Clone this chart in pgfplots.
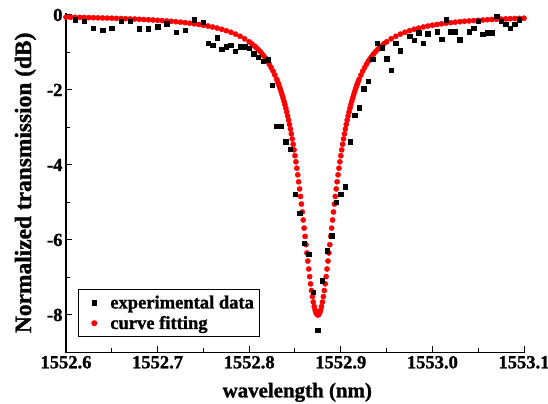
\documentclass[border=0pt]{standalone}
\usepackage{pgfplots}
\pgfplotsset{compat=1.18}
\usepackage{fontspec}
\setmainfont{Liberation Serif}[BoldFont={Liberation Serif Bold}]
\newfontfamily\bfserif{Liberation Serif Bold}[FakeBold=1.2]
\definecolor{fitred}{RGB}{255,0,0}
\begin{document}
\begin{tikzpicture}
\begin{axis}[
  at={(66bp,51.5bp)}, anchor=south west,
  scale only axis,
  width=458bp, height=339.4bp,
  xmin=1552.6, xmax=1553.1,
  ymin=-9, ymax=0.05,
  axis x line*=bottom, axis y line*=left,
  axis line style={line width=1.1bp, black},
  xtick={1552.6,1552.7,1552.8,1552.9,1553.0,1553.1},
  xticklabels={{\bfserif 1552.6},{\bfserif 1552.7},{\bfserif 1552.8},{\bfserif 1552.9},{\bfserif 1553.0},{\bfserif 1553.1}},
  ytick={-8,-6,-4,-2,0},
  yticklabels={{\bfserif -8},{\bfserif -6},{\bfserif -4},{\bfserif -2},{\bfserif 0}},
  minor x tick num=1, minor y tick num=1,
  tick align=inside,
  major tick length=6bp, minor tick length=4bp,
  tick style={line width=1bp, black},
  /pgf/number format/assume math mode=true,
  tick label style={font=\bfserif\fontsize{18.6}{20}\selectfont},
  xlabel={wavelength (nm)},
  ylabel={Normalized transmission (dB)},
  xlabel style={at={(axis description cs:0.505,-0.132)}, anchor=base, font=\bfserif\fontsize{21}{24}\selectfont},
  ylabel style={at={(axis description cs:-0.0764,0.5)}, anchor=base, font=\bfserif\fontsize{23.5}{26}\selectfont},
  reverse legend,
  legend cell align=left,
  legend image code/.code={\path[draw=none,fill=none] (-12bp,-5bp) rectangle (14bp,5bp); \draw[#1] plot coordinates {(0bp,0bp)};},
  legend style={at={(0.026,0.046)}, anchor=south west, draw=black, line width=0.8bp,
    font=\bfserif\fontsize{18.6}{21}\selectfont, row sep=2bp, inner xsep=4bp, inner ysep=4bp,
    column sep=0bp},
  clip=false,
]
\addplot[only marks, mark=*, mark size=2.6bp, fitred, mark options={draw=none, fill=fitred}] coordinates {
(1552.600,-0.0580) (1552.605,-0.0601) (1552.610,-0.0624) (1552.615,-0.0648) (1552.620,-0.0674)
(1552.625,-0.0701) (1552.630,-0.0729) (1552.635,-0.0760) (1552.640,-0.0792) (1552.645,-0.0827)
(1552.650,-0.0863) (1552.655,-0.0903) (1552.660,-0.0944) (1552.665,-0.0989) (1552.670,-0.1038)
(1552.675,-0.1089) (1552.680,-0.1145) (1552.685,-0.1205) (1552.690,-0.1270) (1552.695,-0.1341)
(1552.700,-0.1417) (1552.705,-0.1500) (1552.710,-0.1591) (1552.715,-0.1689) (1552.720,-0.1798)
(1552.725,-0.1917) (1552.730,-0.2048) (1552.735,-0.2192) (1552.740,-0.2353) (1552.745,-0.2532)
(1552.750,-0.2731) (1552.755,-0.2955) (1552.760,-0.3207) (1552.765,-0.3492) (1552.770,-0.3816)
(1552.775,-0.4187) (1552.780,-0.4613) (1552.785,-0.5106) (1552.790,-0.5680) (1552.795,-0.6355)
(1552.800,-0.7150) (1552.803,-0.770) (1552.806,-0.831) (1552.808,-0.876) (1552.810,-0.925)
(1552.812,-0.977) (1552.814,-1.034) (1552.816,-1.095) (1552.818,-1.162) (1552.820,-1.235)
(1552.822,-1.314) (1552.824,-1.401) (1552.826,-1.496) (1552.828,-1.600) (1552.830,-1.714)
(1552.831,-1.776) (1552.832,-1.840) (1552.833,-1.907) (1552.834,-1.978) (1552.835,-2.053)
(1552.836,-2.131) (1552.837,-2.213) (1552.838,-2.300) (1552.839,-2.390) (1552.840,-2.486)
(1552.841,-2.586) (1552.842,-2.692) (1552.843,-2.803) (1552.844,-2.920) (1552.845,-3.042)
(1552.846,-3.171) (1552.847,-3.306) (1552.848,-3.448) (1552.849,-3.597) (1552.850,-3.753)
(1552.851,-3.916) (1552.852,-4.086) (1552.853,-4.263) (1552.854,-4.448) (1552.855,-4.639)
(1552.856,-4.838) (1552.857,-5.042) (1552.858,-5.252) (1552.859,-5.466) (1552.860,-5.684)
(1552.861,-5.904) (1552.862,-6.125) (1552.863,-6.346) (1552.864,-6.562) (1552.865,-6.773)
(1552.866,-6.977) (1552.867,-7.169) (1552.868,-7.348) (1552.869,-7.510) (1552.870,-7.654)
(1552.871,-7.775) (1552.872,-7.872) (1552.873,-7.942) (1552.874,-7.986) (1552.875,-8.000)
(1552.876,-7.986) (1552.877,-7.942) (1552.878,-7.872) (1552.879,-7.775) (1552.880,-7.654)
(1552.881,-7.510) (1552.882,-7.348) (1552.883,-7.169) (1552.884,-6.977) (1552.885,-6.773)
(1552.886,-6.562) (1552.887,-6.346) (1552.888,-6.125) (1552.889,-5.904) (1552.890,-5.684)
(1552.891,-5.466) (1552.892,-5.252) (1552.893,-5.042) (1552.894,-4.838) (1552.895,-4.639)
(1552.896,-4.448) (1552.897,-4.263) (1552.898,-4.086) (1552.899,-3.916) (1552.900,-3.753)
(1552.901,-3.597) (1552.902,-3.448) (1552.903,-3.306) (1552.904,-3.171) (1552.905,-3.042)
(1552.906,-2.920) (1552.907,-2.803) (1552.908,-2.692) (1552.909,-2.586) (1552.910,-2.486)
(1552.911,-2.390) (1552.912,-2.300) (1552.913,-2.213) (1552.914,-2.131) (1552.915,-2.053)
(1552.916,-1.978) (1552.917,-1.907) (1552.918,-1.840) (1552.919,-1.776) (1552.920,-1.714)
(1552.922,-1.600) (1552.924,-1.496) (1552.926,-1.401) (1552.928,-1.314) (1552.930,-1.235)
(1552.932,-1.162) (1552.934,-1.095) (1552.936,-1.034) (1552.938,-0.977) (1552.940,-0.925)
(1552.942,-0.876) (1552.944,-0.831) (1552.947,-0.770) (1552.950,-0.7150) (1552.955,-0.6355)
(1552.960,-0.5680) (1552.965,-0.5106) (1552.970,-0.4613) (1552.975,-0.4187) (1552.980,-0.3816)
(1552.985,-0.3492) (1552.990,-0.3207) (1552.995,-0.2955) (1553.000,-0.2731) (1553.005,-0.2532)
(1553.010,-0.2353) (1553.015,-0.2192) (1553.020,-0.2048) (1553.025,-0.1917) (1553.030,-0.1798)
(1553.035,-0.1689) (1553.040,-0.1591) (1553.045,-0.1500) (1553.050,-0.1417) (1553.055,-0.1341)
(1553.060,-0.1270) (1553.065,-0.1205) (1553.070,-0.1145) (1553.075,-0.1089) (1553.080,-0.1038)
(1553.085,-0.0989) (1553.090,-0.0944) (1553.095,-0.0903) (1553.100,-0.0863)
};
\addlegendentry{curve fitting}
\addplot[only marks, mark=square*, mark size=2.2bp, black] coordinates {
(1552.610,-0.125) (1552.620,-0.165) (1552.630,-0.355) (1552.640,-0.405) (1552.650,-0.355)
(1552.660,-0.170) (1552.670,-0.170) (1552.680,-0.370) (1552.690,-0.370) (1552.700,-0.310)
(1552.710,-0.230) (1552.720,-0.460) (1552.730,-0.410) (1552.740,-0.130) (1552.750,-0.190)
(1552.755,-0.755) (1552.760,-0.800) (1552.765,-0.610) (1552.770,-0.915) (1552.775,-0.850)
(1552.780,-0.800) (1552.785,-0.960) (1552.790,-0.850) (1552.795,-0.845) (1552.800,-0.890)
(1552.805,-1.030) (1552.810,-1.125) (1552.815,-1.240) (1552.820,-1.190) (1552.825,-1.870)
(1552.830,-2.960) (1552.835,-2.960) (1552.840,-3.380) (1552.845,-3.580) (1552.850,-4.780)
(1552.855,-5.290) (1552.860,-6.080) (1552.865,-6.380) (1552.870,-7.390) (1552.875,-8.400)
(1552.880,-7.090) (1552.885,-6.290) (1552.890,-5.890) (1552.895,-4.990) (1552.900,-4.780)
(1552.905,-4.580) (1552.910,-3.380) (1552.915,-2.670) (1552.920,-2.470) (1552.925,-1.970)
(1552.930,-1.760) (1552.935,-1.180) (1552.940,-0.755) (1552.945,-0.870) (1552.950,-1.170)
(1552.955,-1.470) (1552.960,-0.755) (1552.965,-0.950) (1552.975,-0.565) (1552.980,-0.670)
(1552.985,-0.470) (1552.990,-0.755) (1552.995,-0.500) (1553.005,-0.450) (1553.010,-0.650)
(1553.015,-0.130) (1553.020,-0.450) (1553.025,-0.450) (1553.030,-0.660) (1553.040,-0.450)
(1553.045,-0.355) (1553.050,-0.170) (1553.055,-0.515) (1553.060,-0.475) (1553.065,-0.470)
(1553.070,-0.035) (1553.075,-0.160) (1553.080,-0.250) (1553.085,-0.360) (1553.090,-0.240)
(1553.095,-0.130)
};
\addlegendentry{experimental data\hspace{7bp}}
\end{axis}
\pgfresetboundingbox
\useasboundingbox (0,0) rectangle (548bp,404bp);
\end{tikzpicture}
\end{document}
